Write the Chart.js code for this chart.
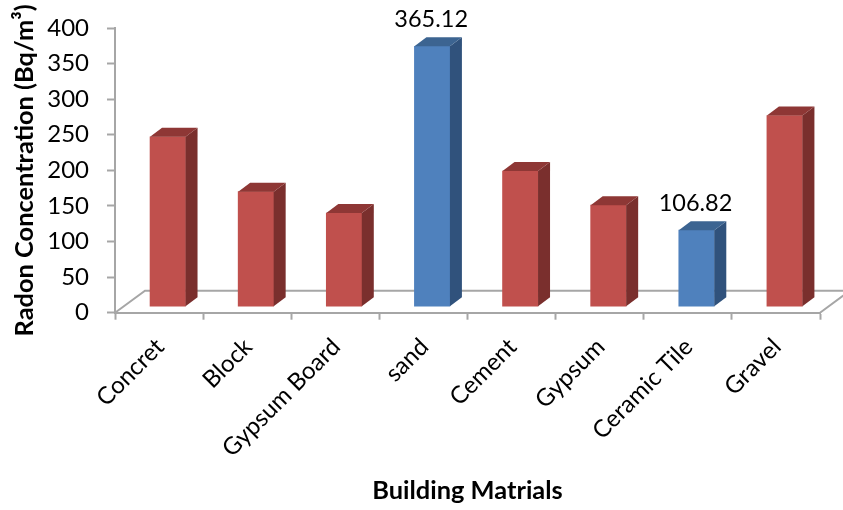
<!DOCTYPE html>
<html>
<head>
<meta charset="utf-8">
<style>
  html, body { margin: 0; padding: 0; background: #fff; }
  #wrap { width: 843px; height: 510px; overflow: hidden; }
</style>
<script src="https://cdn.jsdelivr.net/npm/chart.js@4/dist/chart.umd.min.js"></script>
</head>
<body>
<div id="wrap"><canvas id="chart" width="843" height="510"></canvas></div>
<script>
const categories = ["Concret", "Block", "Gypsum Board", "sand", "Cement", "Gypsum", "Ceramic Tile", "Gravel"];
const radon = [238, 161, 131, 365.12, 190, 142, 106.82, 268];
const pointLabels = [null, null, null, "365.12", null, null, "106.82", null];
const isBlue = [false, false, false, true, false, false, true, false];

const FONT = "Lato, 'Open Sans', sans-serif";
const AXIS = "#a6a6a6";
const FACES = {
  red: { front: "#c0504d", side: "#7a2f2d", top: "#8e3735" },
  blue: { front: "#4f81bd", side: "#30527c", top: "#3c6491" },
};
// fake 3D: how far the bars and the floor recede
const DEPTH_X = 12, DEPTH_Y = 9;
const FLOOR_X = 30, FLOOR_Y = 22;

function poly(ctx, pts, fill) {
  ctx.beginPath();
  pts.forEach(([x, y], i) => (i ? ctx.lineTo(x, y) : ctx.moveTo(x, y)));
  ctx.closePath();
  ctx.fillStyle = fill;
  ctx.fill();
}

const floorPlugin = {
  id: "floor",
  beforeDatasetsDraw(chart) {
    const { ctx, chartArea: a } = chart;
    ctx.save();
    ctx.strokeStyle = AXIS;
    ctx.lineWidth = 2;
    ctx.beginPath();
    ctx.moveTo(a.left, a.bottom);
    ctx.lineTo(a.left + FLOOR_X, a.bottom - FLOOR_Y);
    ctx.lineTo(a.right + FLOOR_X, a.bottom - FLOOR_Y);
    ctx.lineTo(a.right, a.bottom);
    ctx.stroke();
    ctx.restore();
  },
};

const boxPlugin = {
  id: "box",
  afterDatasetsDraw(chart) {
    const { ctx } = chart;
    ctx.save();
    chart.getDatasetMeta(0).data.forEach((bar, i) => {
      const f = isBlue[i] ? FACES.blue : FACES.red;
      const l = bar.x - bar.width / 2, r = bar.x + bar.width / 2;
      const t = bar.y, b = bar.base;
      poly(ctx, [[r, t], [r + DEPTH_X, t - DEPTH_Y], [r + DEPTH_X, b - DEPTH_Y], [r, b]], f.side);
      poly(ctx, [[l, t], [l + DEPTH_X, t - DEPTH_Y], [r + DEPTH_X, t - DEPTH_Y], [r, t]], f.top);
      if (pointLabels[i]) {
        ctx.fillStyle = "#000";
        ctx.font = "23.5px " + FONT;
        ctx.textAlign = "center";
        ctx.textBaseline = "middle";
        ctx.fillText(pointLabels[i], bar.x - 1, t - 27);
      }
    });
    ctx.restore();
  },
};

new Chart(document.getElementById("chart"), {
  type: "bar",
  data: {
    labels: categories,
    datasets: [{
      data: radon.map((v, i) => ({ x: i, y: v })),
      xAxisID: "xBars",
      yAxisID: "yBars",
      barThickness: 35.5,
      backgroundColor: isBlue.map((b) => (b ? FACES.blue.front : FACES.red.front)),
      borderWidth: 0,
    }],
  },
  options: {
    responsive: false,
    animation: false,
    devicePixelRatio: 1,
    layout: { autoPadding: false, padding: { top: 28, right: 23, left: 0, bottom: 0 } },
    plugins: { legend: { display: false }, tooltip: { enabled: false } },
    scales: {
      x: {
        type: "category",
        offset: true,
        afterFit: (s) => { s.height = 197.3; },
        border: { color: AXIS, width: 2 },
        grid: { offset: true, drawOnChartArea: false, color: AXIS, tickColor: AXIS, tickWidth: 2, tickLength: 7 },
        ticks: { color: "#000", font: { family: FONT, size: 24 }, autoSkip: false, minRotation: 45, maxRotation: 45, padding: 13, labelOffset: 1 },
        title: { display: true, text: "Building Matrials", color: "#000", font: { family: FONT, size: 25.4, weight: "bold" }, padding: { top: 0, bottom: 4 } },
      },
      y: {
        min: 0,
        max: 400,
        afterFit: (s) => { s.width = 115; s.paddingTop = 0; s.paddingBottom = 0; },
        border: { color: AXIS, width: 2 },
        grid: { drawOnChartArea: false, color: AXIS, tickColor: AXIS, tickWidth: 2, tickLength: 8 },
        ticks: { stepSize: 50, color: "#000", font: { family: FONT, size: 24 }, padding: 18 },
        title: { display: true, text: "Radon Concentration (Bq/m³)", color: "#000", font: { family: FONT, size: 25.4, weight: "bold" }, padding: { top: 10, bottom: 0 } },
      },
      // bars stand a little inside the floor, so they get their own shifted scales
      xBars: { type: "linear", axis: "x", display: false, offset: false, min: -0.599, max: 7.401 },
      yBars: { type: "linear", axis: "y", display: false, min: -9.1, max: 390.9 },
    },
  },
  plugins: [floorPlugin, boxPlugin],
});
</script>
</body>
</html>
